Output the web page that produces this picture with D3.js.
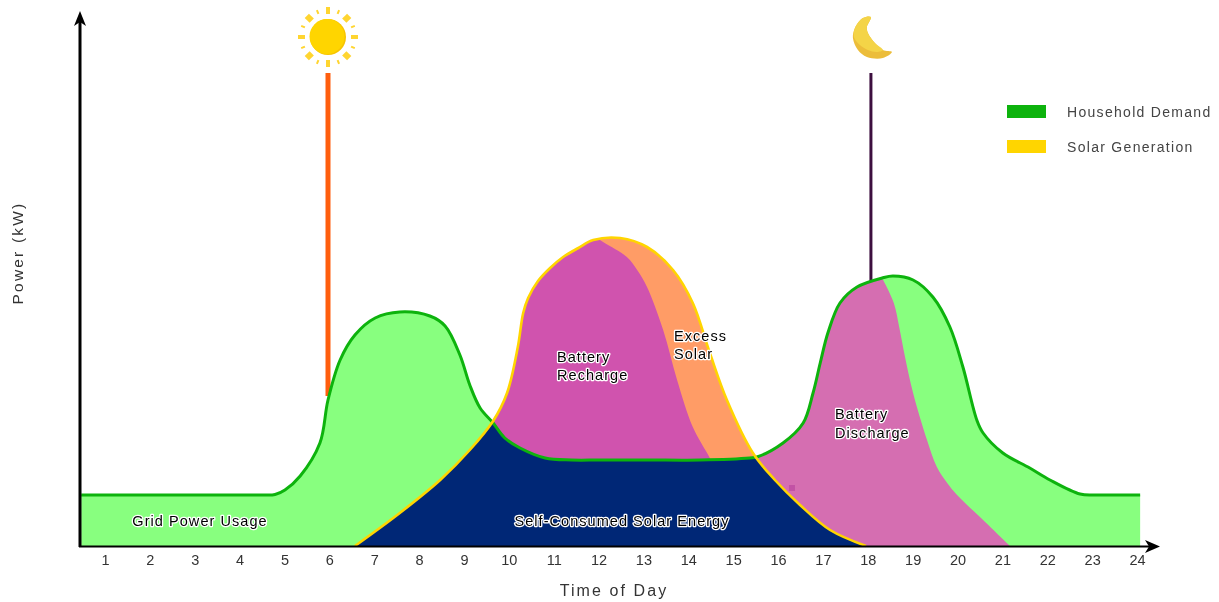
<!DOCTYPE html>
<html><head><meta charset="utf-8">
<script src="https://cdnjs.cloudflare.com/ajax/libs/d3/7.8.5/d3.min.js"></script>
<style>html,body{margin:0;padding:0;background:#fff}svg{display:block;filter:blur(0.6px)}text{font-family:"Liberation Sans",Arial,sans-serif}</style>
</head><body><svg id="c" width="1219" height="602"></svg>
<script>
const hours = d3.range(1, 25);
const legendLabels = ["Household Demand", "Solar Generation"];
const demandHour = [0.47,2,3.5,4.5,4.79,5.01,5.35,5.79,5.97,6.24,6.57,7.02,7.57,8.24,8.58,8.91,9.13,9.36,9.65,9.91,10.25,10.81,11.4,12.03,13.1,14.26,15.37,15.53,16.11,16.56,16.78,16.94,17.11,17.38,17.76,18.32,18.56,19.01,19.45,19.83,20.12,20.43,20.57,21.01,21.61,22.06,22.73,23.06,23.6,24.07];
const demandKw   = [1.02,1.02,1.02,1.02,1.03,1.12,1.40,2.06,2.92,3.72,4.22,4.56,4.68,4.60,4.40,3.82,3.22,2.76,2.46,2.16,1.96,1.76,1.72,1.72,1.72,1.72,1.76,1.78,2.06,2.46,3.06,3.66,4.26,4.86,5.18,5.36,5.40,5.32,4.98,4.38,3.58,2.52,2.26,1.86,1.56,1.32,1.04,1.02,1.02,1.02];
const solarHour = [6.57,7.57,8.47,9.13,9.65,9.96,10.20,10.32,10.43,10.65,10.92,11.21,11.55,11.88,12.48,13.08,13.66,14.10,14.48,14.86,15.44,15.93,16.49,17.16,17.96];
const solarKw   = [0,0.66,1.32,1.92,2.50,3.06,3.98,4.66,4.96,5.30,5.56,5.78,5.96,6.12,6.16,5.98,5.52,4.86,3.86,2.92,1.86,1.32,0.82,0.32,0];
const rechargeEdgeHour = [11.74,12.10,12.63,12.86,13.08,13.44,13.75,14.10,14.48,14.66];
const rechargeEdgeKw   = [6.28,6.08,5.78,5.52,5.18,4.32,3.32,2.38,1.76,1.42];
const dischargeEdgeHour = [18.23,18.32,18.58,18.70,18.83,19.01,19.32,19.54,19.77,19.99,20.57,21.17];
const dischargeEdgeKw   = [5.52,5.36,4.86,4.38,3.78,3.06,2.12,1.58,1.26,1.02,0.52,0];
const sunriseHour = 5.97, sunsetHour = 18.07;
const C = {grid:"#88ff7f",demand:"#0db30d",solar:"#ffd500",navy:"#002776",recharge:"#d053ae",excess:"#ff9c66",discharge:"#d56eb1"};

const svg = d3.select("#c");
const x = d3.scaleLinear().domain([1,24]).range([105,1137]);
const y = d3.scaleLinear().domain([0,10]).range([546,46]);
const zip = (a,b)=>a.map((h,i)=>[h,b[i]]);
const demand = zip(demandHour,demandKw), solar = zip(solarHour,solarKw);
const curve = d3.curveCatmullRom.alpha(0.5);
const line = d3.line().x(d=>x(d[0])).y(d=>y(d[1])).curve(curve);
const area = d3.area().x(d=>x(d[0])).y0(y(0)).y1(d=>y(d[1])).curve(curve);
const defs = svg.append("defs");
defs.append("clipPath").attr("id","underDemand").append("path").attr("d",area(demand));
defs.append("clipPath").attr("id","underSolar").append("path").attr("d",area(solar));

// poles
svg.append("line").attr("x1",x(sunriseHour)).attr("x2",x(sunriseHour)).attr("y1",73).attr("y2",y(3)).attr("stroke","#ff5e0e").attr("stroke-width",5);
svg.append("line").attr("x1",x(sunsetHour)).attr("x2",x(sunsetHour)).attr("y1",73).attr("y2",y(5.2)).attr("stroke","#3d0f3f").attr("stroke-width",3);

// regions
svg.append("path").attr("d",area(demand)).attr("fill",C.grid);
svg.append("path").attr("d",area(solar)).attr("fill",C.excess);
const edgeRegion=(h,k,left)=>line(zip(h,k))+`L${x(h[h.length-1])},${y(0)}L${x(left)},${y(0)}L${x(left)},${y(k[0])}Z`;
svg.append("path").attr("d",edgeRegion(rechargeEdgeHour,rechargeEdgeKw,9)).attr("fill",C.recharge).attr("clip-path","url(#underSolar)");
svg.append("path").attr("d",edgeRegion(dischargeEdgeHour,dischargeEdgeKw,15.44)).attr("fill",C.discharge).attr("clip-path","url(#underDemand)");
svg.append("path").attr("d",area(solar)).attr("fill",C.navy).attr("clip-path","url(#underDemand)");
svg.append("rect").attr("x",x(16.31)-3).attr("y",y(1.16)-3).attr("width",6).attr("height",6).attr("fill","#c252a5");

// curves
svg.append("path").attr("d",line(demand)).attr("fill","none").attr("stroke",C.demand).attr("stroke-width",3);
svg.append("path").attr("d",line(solar)).attr("fill","none").attr("stroke",C.solar).attr("stroke-width",2.6);

// axes
const xAxis = svg.append("g").attr("transform",`translate(0,${y(0)})`)
  .call(d3.axisBottom(x).tickValues(hours).tickFormat(d3.format("d")).tickSize(0).tickPadding(9));
xAxis.select(".domain").remove();
xAxis.selectAll("text").attr("font-size",14.5).attr("fill","#333").attr("font-family","Liberation Sans");
svg.append("line").attr("x1",79).attr("x2",1150).attr("y1",546.5).attr("y2",546.5).attr("stroke","#000").attr("stroke-width",2);
svg.append("path").attr("d","M1160,546.5L1145,540L1149,546.5L1145,553Z").attr("fill","#000");
svg.append("line").attr("x1",80).attr("x2",80).attr("y1",547).attr("y2",22).attr("stroke","#000").attr("stroke-width",3);
svg.append("path").attr("d","M80,11L74,26L80,22L86,26Z").attr("fill","#000");

svg.append("text").attr("x",614).attr("y",596).attr("text-anchor","middle").attr("font-size",16).attr("letter-spacing",2.1).attr("fill","#333").text("Time of Day");
svg.append("text").attr("transform","translate(23,253) rotate(-90)").attr("text-anchor","middle").attr("font-size",15.5).attr("letter-spacing",2.2).attr("fill","#333").text("Power (kW)");

// region labels
const labels=[
 {t:"Grid Power Usage",x:200,y:526,a:"middle"},
 {t:"Self-Consumed Solar Energy",x:622,y:526,a:"middle"},
 {t:"Battery",x:557,y:362,a:"start"},{t:"Recharge",x:557,y:380,a:"start"},
 {t:"Excess",x:674,y:341,a:"start"},{t:"Solar",x:674,y:359,a:"start"},
 {t:"Battery",x:835,y:419,a:"start"},{t:"Discharge",x:835,y:438,a:"start"}];
svg.append("g").selectAll("text").data(labels).join("text")
 .attr("x",d=>d.x).attr("y",d=>d.y).attr("text-anchor",d=>d.a).attr("font-size",14.5).attr("letter-spacing",1.05)
 .attr("fill","#000").attr("stroke","#fff").attr("stroke-width",2.6).attr("paint-order","stroke").attr("stroke-linejoin","round").text(d=>d.t);

// legend
[C.demand,C.solar].forEach((c,i)=>{
 const yy=105+i*35;
 svg.append("rect").attr("x",1007).attr("y",yy).attr("width",39).attr("height",13).attr("fill",c);
 svg.append("text").attr("x",1067).attr("y",yy+12).attr("font-size",14).attr("letter-spacing",1.3).attr("fill","#444").text(legendLabels[i]);
});

// sun
const sun=svg.append("g").attr("transform",`translate(${x(sunriseHour)},37)`);
d3.range(16).forEach(i=>{
 const a=i*Math.PI/8, big=i%2==0, diag=i%4==2;
 const r0=big?23:25, r1=big?30:29;
 sun.append("line").attr("x1",r0*Math.cos(a)).attr("y1",r0*Math.sin(a)).attr("x2",r1*Math.cos(a)).attr("y2",r1*Math.sin(a))
  .attr("stroke","#ffd530").attr("stroke-width",big?(diag?6:4):2);
});
sun.append("circle").attr("r",18).attr("fill","#f7c400");
sun.append("circle").attr("r",17.5).attr("cx",-1).attr("cy",-0.5).attr("fill","#ffd500");

// moon
const moonLine=d3.line().curve(d3.curveCatmullRomClosed.alpha(0.5));
const moonOutline=[[0,17],[-8,18],[-16,28],[-18,38],[-13,50],[-4,57],[12,58],[21,52],[12,50],[4,43],[-3,33],[-4,27]];
const moonHighlight=[[0,17],[-8,18],[-16,28],[-17,37],[-11,45],[-3,50],[6,52],[12,50],[4,43],[-3,33],[-4,27]];
const moon=svg.append("g").attr("transform",`translate(${x(sunsetHour)},0)`);
moon.append("path").attr("d",moonLine(moonOutline)).attr("fill","#ecbd3a");
moon.append("path").attr("d",moonLine(moonHighlight)).attr("fill","#f4d447");
</script></body></html>
